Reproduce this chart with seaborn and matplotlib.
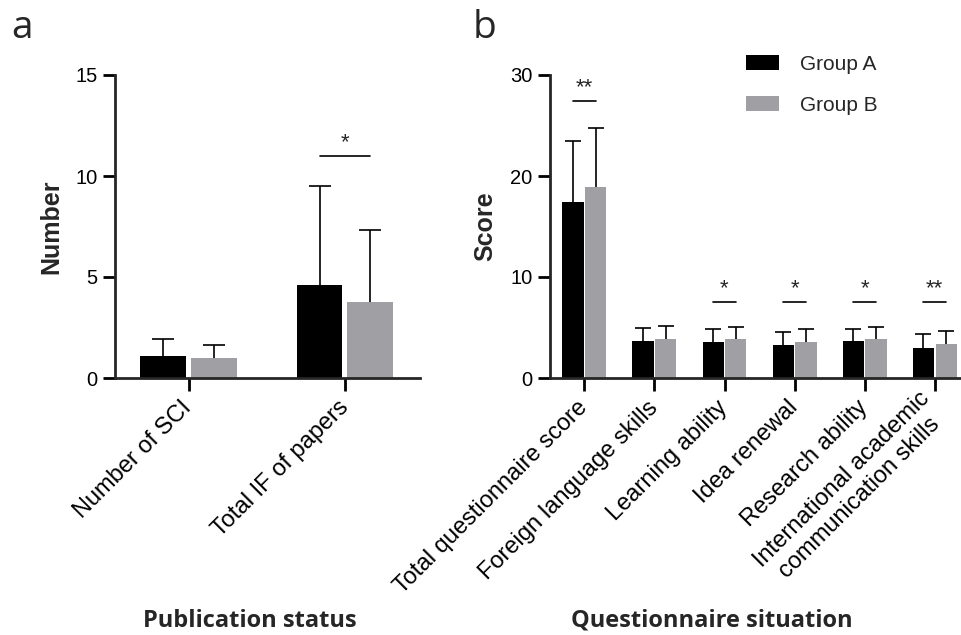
import numpy as np
import pandas as pd
import matplotlib
matplotlib.use("Agg")
import matplotlib.pyplot as plt
import seaborn as sns

# Panel a - publication status
pub_categories = ["Number of SCI", "Total IF of papers"]
pub_group_a = [1.1, 4.6]
pub_group_a_sd = [0.83, 4.9]
pub_group_b = [0.97, 3.75]
pub_group_b_sd = [0.66, 3.6]
pub_sig = [None, "*"]
pub_sig_y = [None, 11.0]

# Panel b - questionnaire situation
q_categories = ["Total questionnaire score", "Foreign language skills",
                "Learning ability", "Idea renewal", "Research ability",
                "International academic\ncommunication skills"]
q_group_a = [17.45, 3.7, 3.53, 3.27, 3.63, 2.97]
q_group_a_sd = [6.0, 1.25, 1.32, 1.32, 1.25, 1.35]
q_group_b = [18.94, 3.86, 3.83, 3.53, 3.86, 3.33]
q_group_b_sd = [5.85, 1.26, 1.25, 1.35, 1.22, 1.32]
q_sig = ["**", None, "*", "*", "*", "**"]
q_sig_y = [27.4, None, 7.55, 7.55, 7.55, 7.55]

groups = ["Group A", "Group B"]
palette = {"Group A": "#000000", "Group B": "#a0a0a4"}


def make_df(categories, a, b):
    return pd.DataFrame({
        "category": list(categories) * 2,
        "group": ["Group A"] * len(categories) + ["Group B"] * len(categories),
        "value": list(a) + list(b),
    })


def draw_panel(ax, categories, a, a_sd, b, b_sd, sig, sig_y, gap, capsize):
    df = make_df(categories, a, b)
    sns.barplot(data=df, x="category", y="value", hue="group", hue_order=groups,
                palette=palette, saturation=1, width=0.65, gap=gap,
                errorbar=None, linewidth=0, ax=ax)

    # upper-only error bars on top of each bar (no cap at the bar top)
    centers = []
    for cont, sds in zip(ax.containers, [a_sd, b_sd]):
        xs = [r.get_x() + r.get_width() / 2 for r in cont]
        hs = [r.get_height() for r in cont]
        centers.append(xs)
        _, caps, _ = ax.errorbar(xs, hs, yerr=[np.zeros(len(sds)), sds],
                                 fmt="none", ecolor="black", elinewidth=1.2,
                                 capsize=capsize, capthick=1.2, zorder=3)
        caps[0].set_visible(False)

    # significance marks
    for i, (s, y) in enumerate(zip(sig, sig_y)):
        if s is None:
            continue
        x0, x1 = centers[0][i], centers[1][i]
        ax.plot([x0, x1], [y, y], color="black", lw=1.2)
        ax.annotate(s, ((x0 + x1) / 2, y), xytext=(0, 2),
                    textcoords="offset points", ha="center", va="bottom",
                    fontsize=16)

    ax.set_xlabel("")
    ax.set_ylabel("")
    for side in ["left", "bottom"]:
        ax.spines[side].set_linewidth(2)
    sns.despine(ax=ax)
    ax.tick_params(axis="both", width=2, length=9, color="black",
                   labelcolor="black")
    ax.tick_params(axis="y", labelsize=14.5)
    ax.tick_params(axis="x", labelsize=17, pad=10)
    ax.set_xticks(range(len(categories)))
    ax.set_xticklabels(categories, rotation=45, ha="right", va="center",
                       rotation_mode="anchor", multialignment="center")


sns.set_style("ticks")
plt.rcParams["font.family"] = ["Liberation Sans", "DejaVu Sans"]

fig = plt.figure(figsize=(9.61, 6.35), dpi=100)
ax_a = fig.add_axes([115 / 961, 1 - 378 / 635, 305 / 961, 303 / 635])
ax_b = fig.add_axes([550 / 961, 1 - 378 / 635, 410 / 961, 303 / 635])

draw_panel(ax_a, pub_categories, pub_group_a, pub_group_a_sd, pub_group_b,
           pub_group_b_sd, pub_sig, pub_sig_y, gap=0.1, capsize=8)
draw_panel(ax_b, q_categories, q_group_a, q_group_a_sd, q_group_b,
           q_group_b_sd, q_sig, q_sig_y, gap=0.07, capsize=6)

ax_a.set_xlim(-0.47, 1.48)
ax_a.set_ylim(0, 15)
ax_a.set_yticks([0, 5, 10, 15])
ax_b.set_xlim(-0.49, 5.36)
ax_b.set_ylim(0, 30)
ax_b.set_yticks([0, 10, 20, 30])

# legend only on panel b
ax_a.get_legend().remove()
leg = ax_b.get_legend()
handles = leg.legend_handles
labels = [t.get_text() for t in leg.get_texts()]
leg.remove()
ax_b.legend(handles, labels, frameon=False, loc="upper left",
            bbox_to_anchor=(746 / 961, 1 - 55 / 635),
            bbox_transform=fig.transFigure, fontsize=15, handlelength=1.6,
            handleheight=0.75, handletextpad=1.0, labelspacing=1.05,
            borderpad=0, borderaxespad=0)

# axis titles
title_font = dict(family=["Open Sans", "DejaVu Sans"], fontweight="bold",
                  fontsize=17)
ax_a.set_xlabel("Publication status", va="center", **title_font)
ax_a.xaxis.set_label_coords((250 - 115) / 305, (378 - 621) / 303)
ax_b.set_xlabel("Questionnaire situation", va="center", **title_font)
ax_b.xaxis.set_label_coords((712 - 550) / 410, (378 - 621) / 303)

ax_a.set_ylabel("Number", fontweight="bold", fontsize=18, va="center")
ax_a.yaxis.set_label_coords((51 - 115) / 305, 0.5)
ax_b.set_ylabel("Score", fontweight="bold", fontsize=18, va="center")
ax_b.yaxis.set_label_coords((485 - 550) / 410, 0.5)

# panel letters
fig.text(11 / 961, 1 - 38 / 635, "a", fontsize=28, va="baseline",
         family=["Open Sans", "DejaVu Sans"])
fig.text(473 / 961, 1 - 38 / 635, "b", fontsize=28, va="baseline",
         family=["Open Sans", "DejaVu Sans"])

fig.savefig("out.png", dpi=100)
